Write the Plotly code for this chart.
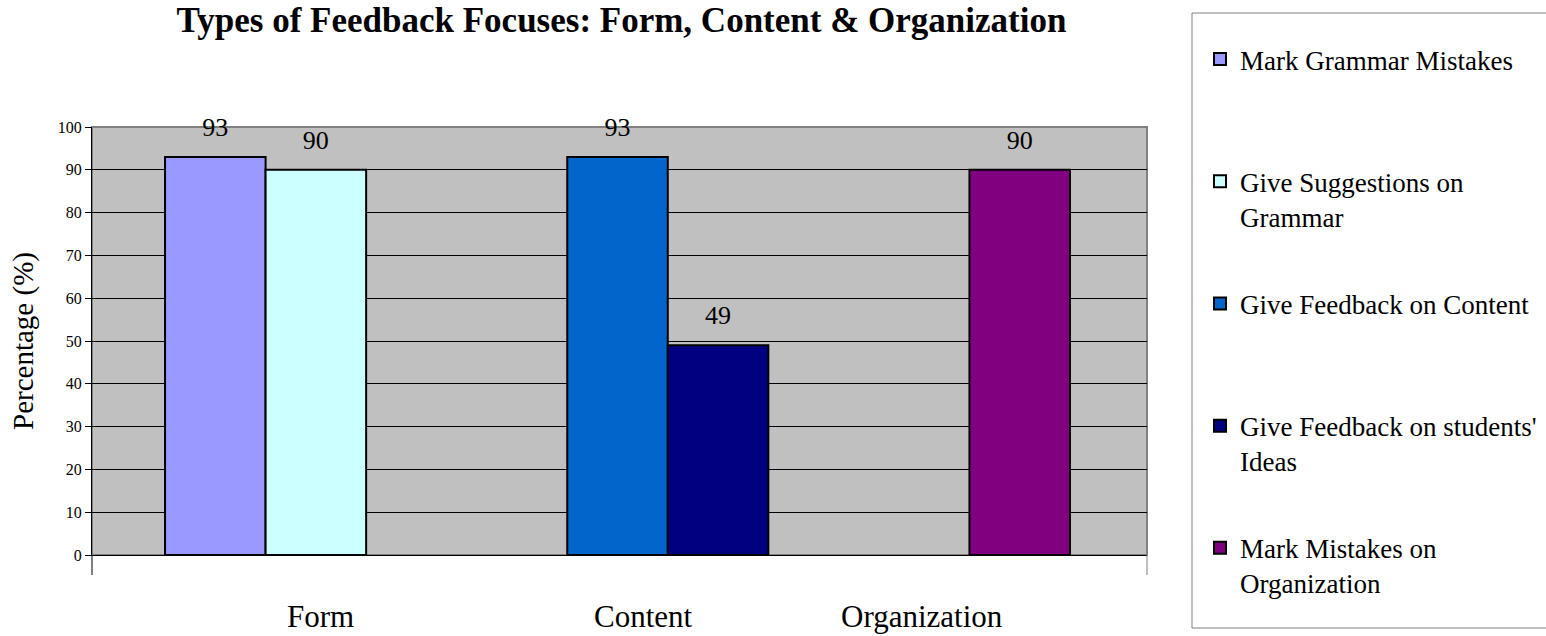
import plotly.graph_objects as go

# ---- data ----
categories = ["Form", "Content", "Organization"]
series_names = [
    "Mark Grammar Mistakes",
    "Give Suggestions on<br>Grammar",
    "Give Feedback on Content",
    "Give Feedback on students'<br>Ideas",
    "Mark Mistakes on<br>Organization",
]
series_cats = [["Form"], ["Form"], ["Content"], ["Content"], ["Organization"]]
series_vals = [[93], [90], [93], [49], [90]]
series_slot = ["a", "b", "a", "b", "a"]
series_colors = ["#9999FF", "#CCFFFF", "#0066CC", "#000080", "#800080"]
y_ticks = list(range(0, 101, 10))

FONT = "Liberation Serif"
W, H = 1546, 636
L, R, T, B = 92, 1147, 127, 555  # plot area in pixels


def px_x(p):
    return (p - L) / (R - L)


def px_y(p):
    return (B - p) / (B - T)


fig = go.Figure()
for name, xs, ys, slot, col in zip(series_names, series_cats, series_vals, series_slot, series_colors):
    label = name if "<br>" in name else name + "<br> "
    fig.add_trace(go.Bar(
        x=xs, y=ys, name=label, offsetgroup=slot, alignmentgroup="g", legendgroup=name,
        marker=dict(color=col, line=dict(color="#000000", width=2)),
        hoverinfo="x+y+name",
    ))
# data labels (same values, placed through the same axes/offset groups)
for name, xs, ys, slot in zip(series_names, series_cats, series_vals, series_slot):
    fig.add_trace(go.Scatter(
        x=xs, y=ys, mode="markers+text", offsetgroup=slot, alignmentgroup="g",
        text=[str(v) for v in ys], textposition="top center", cliponaxis=False,
        textfont=dict(family=FONT, size=26, color="#000000"),
        marker=dict(size=22, color="rgba(0,0,0,0)"),
        showlegend=False, hoverinfo="skip",
    ))

# category labels below the axis (offset as in the original)
label_pos = [320, 643, 922]
annotations = []
for c, p in zip(categories, label_pos):
    annotations.append(dict(
        text=c, x=px_x(p), y=px_y(616), xref="paper", yref="paper",
        xanchor="center", yanchor="middle", showarrow=False,
        font=dict(family=FONT, size=31, color="#000000"),
    ))

shapes = [
    # plot area border
    dict(type="rect", xref="x domain", yref="y domain", x0=0, x1=1, y0=0, y1=1,
         line=dict(color="#808080", width=2), layer="below"),
    # tick marks at the ends of the category axis
    dict(type="line", xref="x domain", yref="y domain", x0=0, x1=0,
         ysizemode="pixel", yanchor=0, y0=0, y1=-20, line=dict(color="#000000", width=1)),
    dict(type="line", xref="x domain", yref="y domain", x0=1, x1=1,
         ysizemode="pixel", yanchor=0, y0=0, y1=-20, line=dict(color="#808080", width=1)),
    # legend box
    dict(type="rect", xref="paper", yref="paper", x0=px_x(1192), x1=px_x(1560),
         y0=px_y(628), y1=px_y(13), line=dict(color="#808080", width=1),
         fillcolor="rgba(0,0,0,0)"),
]

fig.update_layout(
    width=W, height=H,
    margin=dict(l=L, r=W - R, t=T, b=H - B, pad=0, autoexpand=False),
    paper_bgcolor="#FFFFFF", plot_bgcolor="#C0C0C0",
    barmode="group", bargap=0.5, bargroupgap=0,
    scattermode="group", scattergap=0.5,
    font=dict(family=FONT, color="#000000"),
    title=dict(text="Types of Feedback Focuses: Form, Content &amp; Organization",
               x=621.5 / W, xanchor="center", y=1 - 20 / H, yanchor="middle",
               font=dict(family=FONT, size=35, color="#000000", weight="bold")),
    xaxis=dict(type="category", categoryorder="array", categoryarray=categories,
               range=[-0.4316, 2.1915], showticklabels=False, ticks="",
               showgrid=False, showline=True, linecolor="#000000", linewidth=1,
               zeroline=False),
    yaxis=dict(range=[0, 100], tickvals=y_ticks, ticks="outside", ticklen=6,
               tickcolor="#000000", showline=True, linecolor="#000000", linewidth=1,
               showgrid=True, gridcolor="#000000", gridwidth=1, zeroline=False,
               tickfont=dict(family=FONT, size=16, color="#000000"),
               title=dict(text="Percentage (%)", standoff=15,
                          font=dict(family=FONT, size=29, color="#000000"))),
    legend=dict(x=px_x(1200), xanchor="left", y=px_y(35), yanchor="top",
                bgcolor="rgba(0,0,0,0)", borderwidth=0, valign="top",
                tracegroupgap=49, maxheight=620,
                font=dict(family=FONT, size=27, color="#000000")),
    annotations=annotations,
    shapes=shapes,
    showlegend=True,
)

fig.write_html("out.html", config={"displayModeBar": False},
               post_script="document.body.style.margin='0';document.body.style.overflow='hidden';")
